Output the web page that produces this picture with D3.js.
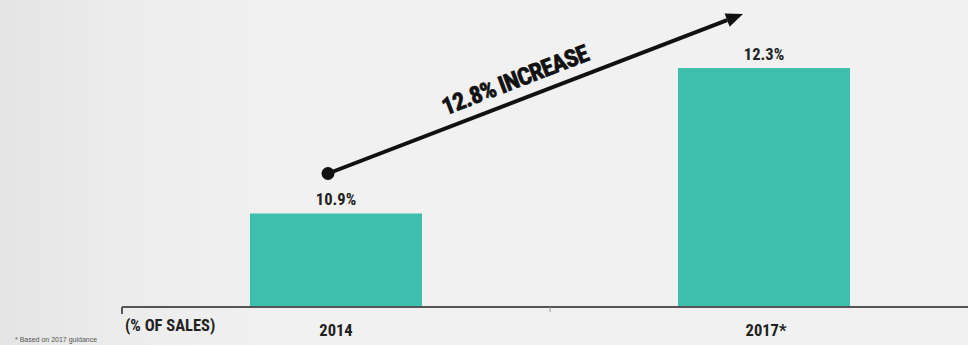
<!DOCTYPE html>
<html>
<head>
<meta charset="utf-8">
<script src="https://cdn.jsdelivr.net/npm/d3@7"></script>
<style>
  html, body { margin: 0; padding: 0; background: #f0f0f0; overflow: hidden; }
  svg { display: block; }
  .cond { font-family: "Liberation Sans Narrow", "Roboto Condensed", "Liberation Sans", Arial, sans-serif; font-weight: bold; }
</style>
</head>
<body>
<svg id="chart" width="968" height="345"></svg>
<script>
// Chart data
const categories = ["2014", "2017*"];
const values = [10.9, 12.3];
const valueLabels = ["10.9%", "12.3%"];
const increaseLabel = "12.8% INCREASE";
const unitLabel = "(% OF SALES)";
const footnote = "* Based on 2017 guidance";

const W = 968, H = 345;
const svg = d3.select("#chart");

// Soft background, slightly darker towards the left edge
const defs = svg.append("defs");
const bg = defs.append("linearGradient").attr("id", "bg").attr("x1", 0).attr("x2", 1).attr("y1", 0).attr("y2", 0);
bg.append("stop").attr("offset", 0).attr("stop-color", "#e4e4e4");
bg.append("stop").attr("offset", 0.12).attr("stop-color", "#ececec");
bg.append("stop").attr("offset", 0.3).attr("stop-color", "#f1f1f1");
bg.append("stop").attr("offset", 1).attr("stop-color", "#f1f1f1");
svg.append("rect").attr("width", W).attr("height", H).attr("fill", "url(#bg)");

const axisLeft = 122, axisRight = 978, baseY = 307;

const x = d3.scaleBand()
  .domain(categories)
  .range([axisLeft, axisRight])
  .paddingInner(0.598)
  .paddingOuter(0.299);

// Value axis does not start at zero
const y = d3.scaleLinear().domain([10, 12.955]).range([baseY, 0]);

const data = categories.map((c, i) => ({ cat: c, v: values[i], label: valueLabels[i] }));

// Bars
svg.selectAll("rect.bar").data(data).join("rect")
  .attr("class", "bar")
  .attr("x", d => x(d.cat))
  .attr("y", d => y(d.v))
  .attr("width", x.bandwidth())
  .attr("height", d => y(10) - y(d.v))
  .attr("fill", "#3ebfad");

// Value labels above bars
svg.selectAll("text.val").data(data).join("text")
  .attr("class", "val cond")
  .attr("x", d => x(d.cat) + x.bandwidth() / 2)
  .attr("y", d => y(d.v) - 8)
  .attr("text-anchor", "middle")
  .attr("font-size", 16.5)
  .attr("fill", "#222")
  .text(d => d.label);

// Baseline axis with ticks at band boundaries
svg.append("line")
  .attr("x1", axisLeft).attr("x2", W)
  .attr("y1", baseY).attr("y2", baseY)
  .attr("stroke", "#555").attr("stroke-width", 2);
const step = x.step();
[axisLeft, axisLeft + step].forEach((tx, i) => {
  svg.append("line")
    .attr("x1", tx).attr("x2", tx)
    .attr("y1", baseY).attr("y2", baseY + (i === 0 ? 7 : 5))
    .attr("stroke", i === 0 ? "#555" : "#999").attr("stroke-width", i === 0 ? 2 : 1);
});

// Category labels
svg.selectAll("text.cat").data(data).join("text")
  .attr("class", "cat cond")
  .attr("x", d => x(d.cat) + x.bandwidth() / 2 + (d.cat.endsWith("*") ? 2 : 0))
  .attr("y", 336)
  .attr("text-anchor", "middle")
  .attr("font-size", 16.5)
  .attr("fill", "#222")
  .text(d => d.cat);

svg.append("text")
  .attr("class", "cond")
  .attr("x", 125).attr("y", 331)
  .attr("font-size", 16.5)
  .attr("fill", "#222")
  .text(unitLabel);

svg.append("text")
  .attr("x", 15).attr("y", 342)
  .attr("font-family", "Liberation Sans, Arial, sans-serif")
  .attr("font-size", 7)
  .attr("fill", "#555")
  .text(footnote);

// Growth arrow from the first bar's label up towards the second bar
const x0 = x(categories[0]) + x.bandwidth() / 2 - 8, y0 = y(values[0]) - 40;
const x1 = x(categories[1]) + x.bandwidth() / 2 - 21, y1 = y(values[1]) - 54;
const ang = Math.atan2(y1 - y0, x1 - x0);
const headLen = 17, headHalf = 7;
const bx = x1 - headLen * Math.cos(ang), by = y1 - headLen * Math.sin(ang);

svg.append("line")
  .attr("x1", x0).attr("y1", y0)
  .attr("x2", bx).attr("y2", by)
  .attr("stroke", "#111").attr("stroke-width", 4);
svg.append("circle").attr("cx", x0).attr("cy", y0).attr("r", 6.5).attr("fill", "#111");
svg.append("path")
  .attr("d", d3.line()([
    [x1, y1],
    [bx + headHalf * Math.sin(ang), by - headHalf * Math.cos(ang)],
    [bx - headHalf * Math.sin(ang), by + headHalf * Math.cos(ang)]
  ]) + "Z")
  .attr("fill", "#111");

// Rotated increase label along the arrow
const tx = x0 + (x1 - x0) * 0.468, ty = y0 + (y1 - y0) * 0.468;
svg.append("text")
  .attr("class", "cond")
  .attr("transform", `translate(${tx},${ty}) rotate(${ang * 180 / Math.PI}) translate(0,-12)`)
  .attr("text-anchor", "middle")
  .attr("font-size", 24)
  .attr("letter-spacing", -0.6)
  .attr("fill", "#111")
  .attr("stroke", "#111").attr("stroke-width", 0.7)
  .text(increaseLabel);
</script>
</body>
</html>
